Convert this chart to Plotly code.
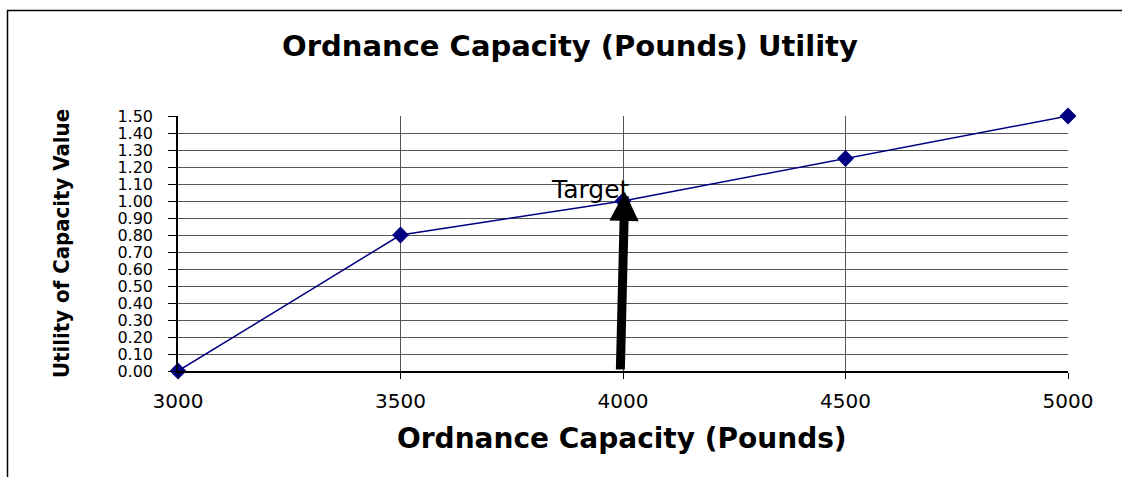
import plotly.graph_objects as go

# Data
capacity = [3000, 3500, 4000, 4500, 5000]
utility = [0.0, 0.80, 1.00, 1.25, 1.50]
x_ticks = [3000, 3500, 4000, 4500, 5000]
y_ticks = [round(i * 0.1, 2) for i in range(16)]
y_tick_text = [f"{v:.2f}" for v in y_ticks]
target_label = "Target"

W, H = 1122, 477
L, R, T, B = 178, 1068, 116, 371


def px_to_paper_x(px):
    return (px - L) / (R - L)


def px_to_paper_y(py):
    return (B - py) / (B - T)


fig = go.Figure()
fig.add_trace(go.Scatter(
    x=capacity, y=utility, mode="lines+markers",
    line=dict(color="#000080", width=1.5),
    marker=dict(symbol="diamond", size=13, color="#000080"),
    cliponaxis=False,
    showlegend=False, hoverinfo="skip",
))

font_main = "DejaVu Sans, Arial, sans-serif"

fig.update_layout(
    width=W, height=H,
    margin=dict(l=L, r=W - R, t=T, b=H - B),
    paper_bgcolor="white", plot_bgcolor="white",
    title=dict(
        text="<b>Ordnance Capacity (Pounds) Utility</b>",
        font=dict(family=font_main, size=29, color="black"),
        xref="paper", x=px_to_paper_x(570), xanchor="center",
        yref="container", y=1 - 46 / H, yanchor="middle",
    ),
    xaxis=dict(
        range=[3000, 5000], tickvals=x_ticks,
        ticktext=[str(v) for v in x_ticks],
        showgrid=True, gridcolor="#555555", gridwidth=1,
        showline=True, linecolor="black", linewidth=1.5,
        ticks="outside", ticklen=6, tickcolor="black",
        tickfont=dict(family=font_main, size=20, color="black"),
        ticklabelstandoff=5,
        zeroline=False, fixedrange=True,
    ),
    yaxis=dict(
        range=[0, 1.5], tickvals=y_ticks, ticktext=y_tick_text,
        showgrid=True, gridcolor="#555555", gridwidth=1,
        showline=True, linecolor="black", linewidth=1.5,
        ticks="outside", ticklen=8, tickcolor="black",
        tickfont=dict(family=font_main, size=16, color="black"),
        ticklabelstandoff=12,
        zeroline=False, fixedrange=True,
    ),
)

# Axis titles as annotations (precise placement)
fig.add_annotation(
    text="<b>Ordnance Capacity (Pounds)</b>",
    xref="paper", yref="paper",
    x=px_to_paper_x(622), y=px_to_paper_y(438),
    xanchor="center", yanchor="middle", showarrow=False,
    font=dict(family=font_main, size=28, color="black"),
)
fig.add_annotation(
    text="<b>Utility of Capacity Value</b>",
    xref="paper", yref="paper",
    x=px_to_paper_x(61), y=px_to_paper_y(244),
    xanchor="center", yanchor="middle", textangle=-90, showarrow=False,
    font=dict(family="DejaVu Sans Condensed, Liberation Sans Narrow, DejaVu Sans, sans-serif",
              size=22, color="black"),
)

# Target arrow
fig.add_annotation(
    x=4004, y=1.055, ax=3994, ay=0.0,
    xref="x", yref="y", axref="x", ayref="y",
    text="", showarrow=True,
    arrowhead=2, arrowsize=0.65, arrowwidth=9, arrowcolor="black",
    standoff=0, startstandoff=0,
)
fig.add_annotation(
    x=3926, y=1.065, xref="x", yref="y",
    text=target_label, showarrow=False,
    xanchor="center", yanchor="middle",
    font=dict(family=font_main, size=25, color="black"),
)

# Outer chart border
fig.add_shape(
    type="rect", xref="paper", yref="paper",
    x0=px_to_paper_x(7.5), x1=px_to_paper_x(1135),
    y0=px_to_paper_y(500), y1=px_to_paper_y(10.5),
    line=dict(color="black", width=1.5), fillcolor="rgba(0,0,0,0)",
    layer="above",
)

fig.write_html(
    "out.html",
    config={"displayModeBar": False},
    post_script="document.body.style.margin='0';document.body.style.overflow='hidden';",
)
